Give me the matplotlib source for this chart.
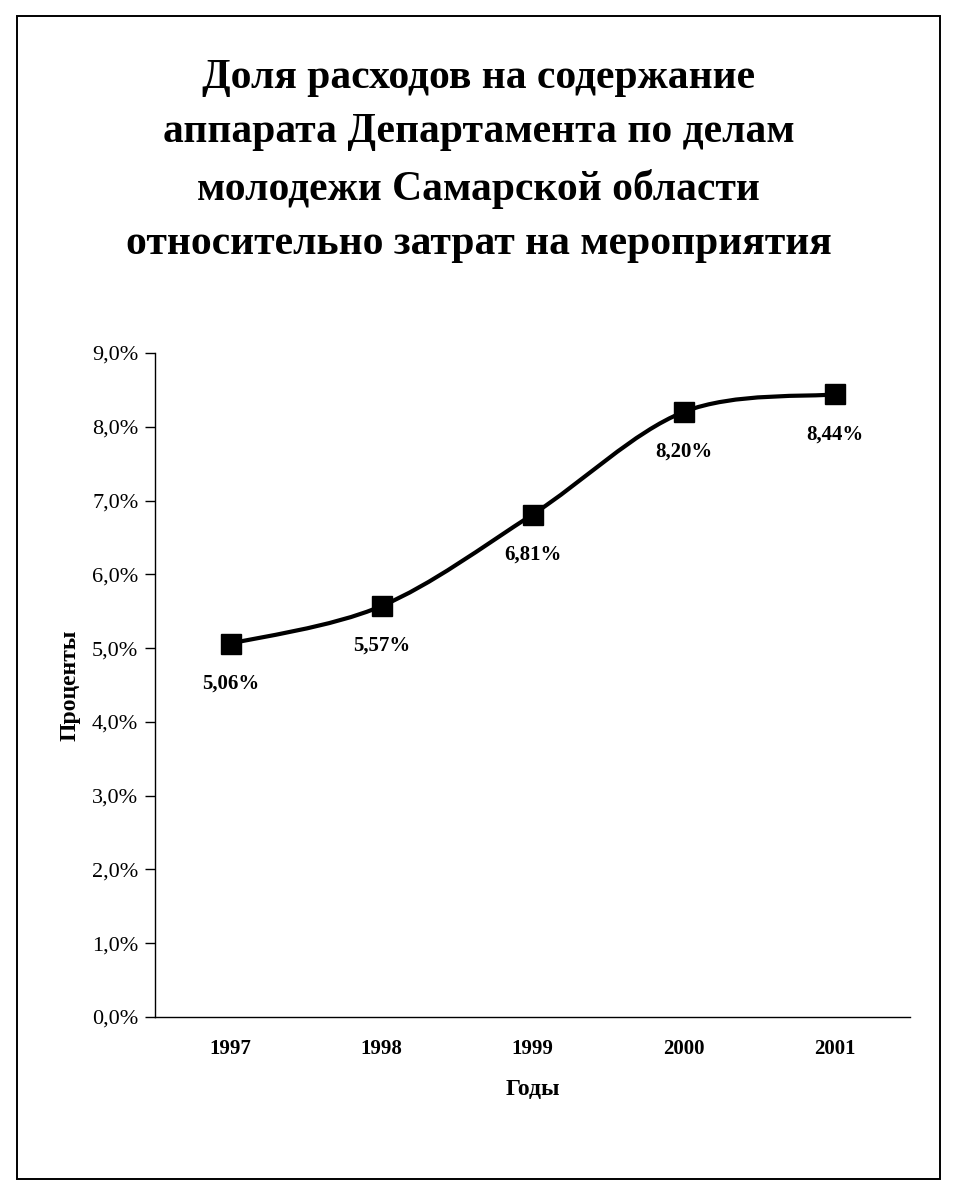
import matplotlib
matplotlib.use("Agg")
import matplotlib.pyplot as plt
from matplotlib.path import Path
from matplotlib.patches import PathPatch, Rectangle
from matplotlib.ticker import FuncFormatter

plt.rcParams['font.family'] = ['Liberation Serif', 'DejaVu Serif']

# Данные
years = ['1997', '1998', '1999', '2000', '2001']
shares = [5.06, 5.57, 6.81, 8.20, 8.44]
share_labels = ['5,06%', '5,57%', '6,81%', '8,20%', '8,44%']
y_ticks = [0, 1, 2, 3, 4, 5, 6, 7, 8, 9]

title = ('Доля расходов на содержание\n'
         'аппарата Департамента по делам\n'
         'молодежи Самарской области\n'
         'относительно затрат на мероприятия')


# Сглаженная линия как в Excel: кривые Безье через точки
def smooth_path(xs, ys, t=1/6):
  verts = [(xs[0], ys[0])]
  codes = [Path.MOVETO]
  n = len(xs)
  for i in range(n - 1):
    x0, y0 = (xs[i-1], ys[i-1]) if i > 0 else (xs[i], ys[i])
    x3, y3 = (xs[i+2], ys[i+2]) if i + 2 < n else (xs[i+1], ys[i+1])
    c1 = (xs[i] + (xs[i+1] - x0) * t, ys[i] + (ys[i+1] - y0) * t)
    c2 = (xs[i+1] - (x3 - xs[i]) * t, ys[i+1] - (y3 - ys[i]) * t)
    verts += [c1, c2, (xs[i+1], ys[i+1])]
    codes += [Path.CURVE4] * 3
  return Path(verts, codes)


fig = plt.figure(figsize=(9.57, 11.95), dpi=100)
fig.patches.append(Rectangle((17/957, 1 - 1179/1195), (940-17)/957, (1179-16)/1195,
                             transform=fig.transFigure, fill=False, edgecolor='black', linewidth=1.4))

fig.text(0.5, 1 - 161/1195, title, ha='center', va='center', fontsize=30,
         fontweight='bold', linespacing=1.56)

ax = fig.add_axes([155/957, 1 - 1017/1195, (910-155)/957, (1017-353)/1195])
x = list(range(len(years)))
ax.add_patch(PathPatch(smooth_path(x, shares), fill=False, edgecolor='black', linewidth=3))
ax.plot(x, shares, linestyle='none', marker='s', markersize=14.5, color='black')

for xi, yi, lab in zip(x, shares, share_labels):
  ax.annotate(lab, (xi, yi), xytext=(0, -40), textcoords='offset pixels',
              ha='center', va='center', fontsize=15, fontweight='bold')

ax.set_xlim(-0.5, 4.5)
ax.set_ylim(0, 9)
ax.set_xticks(x)
ax.set_xticklabels(years, fontsize=15, fontweight='bold')
ax.set_yticks(y_ticks)
ax.yaxis.set_major_formatter(FuncFormatter(lambda v, p: f'{v:.1f}%'.replace('.', ',')))
ax.tick_params(axis='y', labelsize=16, length=7, width=1, direction='out', pad=5)
ax.tick_params(axis='x', length=0, pad=16)
for s in ['top', 'right']:
  ax.spines[s].set_visible(False)
ax.spines['left'].set_linewidth(1)
ax.spines['bottom'].set_linewidth(1)

ax.set_xlabel('Годы', fontsize=17, fontweight='bold', labelpad=14)
ax.set_ylabel('Проценты', fontsize=17, fontweight='bold', labelpad=8)

fig.savefig('out.png', dpi=100)
